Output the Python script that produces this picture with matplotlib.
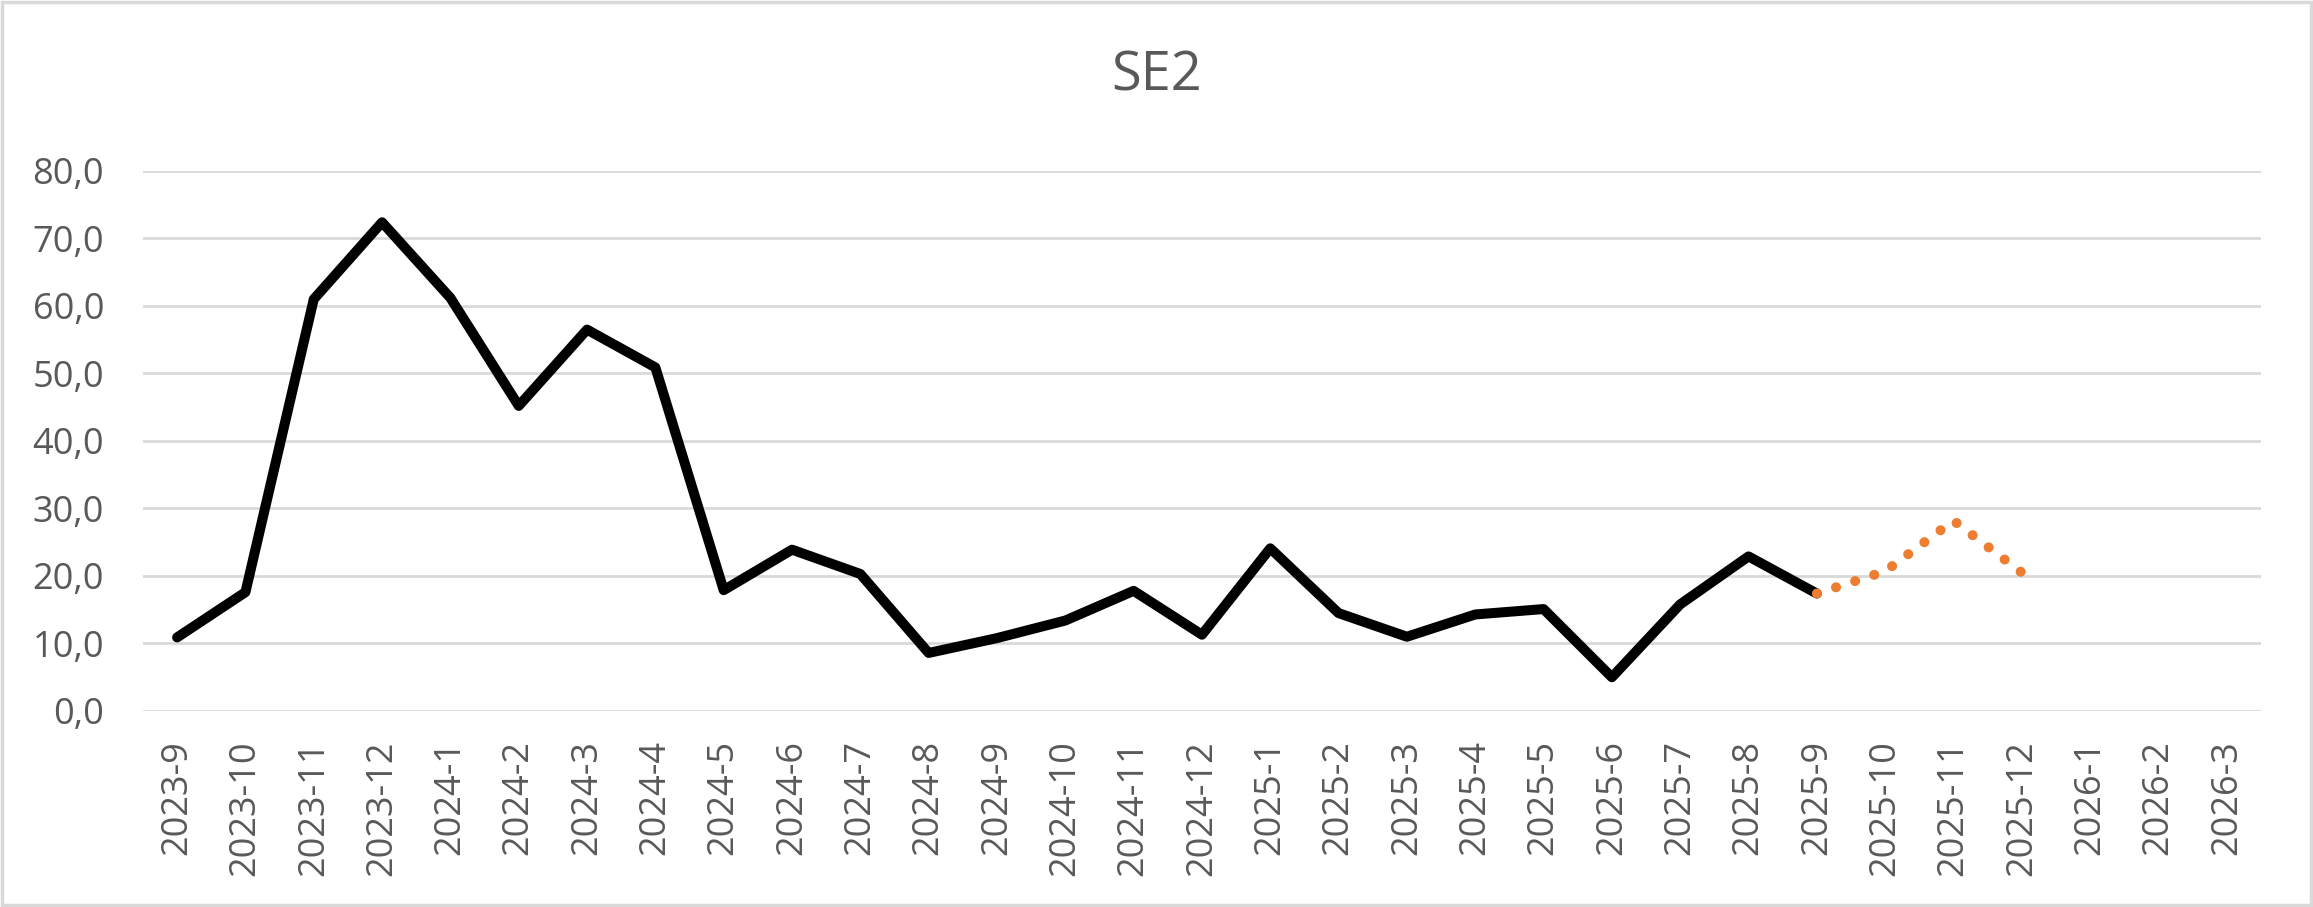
import matplotlib
matplotlib.use("Agg")
import matplotlib.pyplot as plt
from matplotlib.patches import Rectangle
from matplotlib.ticker import FuncFormatter

plt.rcParams['font.family'] = ['Open Sans', 'DejaVu Sans']

months = ['2023-9', '2023-10', '2023-11', '2023-12', '2024-1', '2024-2', '2024-3',
          '2024-4', '2024-5', '2024-6', '2024-7', '2024-8', '2024-9', '2024-10',
          '2024-11', '2024-12', '2025-1', '2025-2', '2025-3', '2025-4', '2025-5',
          '2025-6', '2025-7', '2025-8', '2025-9', '2025-10', '2025-11', '2025-12',
          '2026-1', '2026-2', '2026-3']

actual = [10.9, 17.6, 61.0, 72.4, 61.2, 45.2, 56.5, 50.9, 17.9, 23.9, 20.3, 8.6,
          10.8, 13.4, 17.8, 11.3, 24.1, 14.5, 11.0, 14.3, 15.1, 5.0, 15.8, 22.9, 17.4]
forecast_months = ['2025-9', '2025-10', '2025-11', '2025-12']
forecast = [17.4, 20.7, 28.2, 20.5]

grey_text = '#595959'
grid_col = '#D9D9D9'

fig = plt.figure(figsize=(23.13, 9.07), dpi=100)
ax = fig.add_axes([0.0618, 0.2161, 0.9157, 0.5954])

x_all = list(range(len(months)))
ax.plot(x_all[:len(actual)], actual, color='black', lw=7.2,
        solid_joinstyle='round', solid_capstyle='round', zorder=3)

fx = [months.index(m) for m in forecast_months]
ax.plot(fx, forecast, color='#ED7D31', lw=7.2, linestyle=(0, (0.01, 2.0)),
        dash_capstyle='round', zorder=4)

ax.set_xlim(-0.5, len(months) - 0.5)
ax.set_ylim(0, 80)
ax.set_yticks(range(0, 81, 10))
ax.yaxis.set_major_formatter(FuncFormatter(lambda v, p: f'{v:.1f}'.replace('.', ',')))
ax.set_xticks(x_all)
ax.set_xticklabels(months, rotation=90)

ax.tick_params(axis='both', length=0, colors=grey_text, labelsize=26)
ax.tick_params(axis='x', pad=21)
ax.tick_params(axis='y', pad=28)

ax.grid(axis='y', color=grid_col, lw=2.0)
ax.set_axisbelow(True)
for s in ax.spines.values():
    s.set_visible(False)

fig.text(0.5, 1 - 76 / 907, 'SE2', ha='center', va='center',
         fontsize=39, color=grey_text)

fig.patches.append(Rectangle((0.001, 0.002), 0.998, 0.996, transform=fig.transFigure,
                             fill=False, edgecolor=grid_col, lw=2.5))

fig.savefig('out.png', dpi=100)
